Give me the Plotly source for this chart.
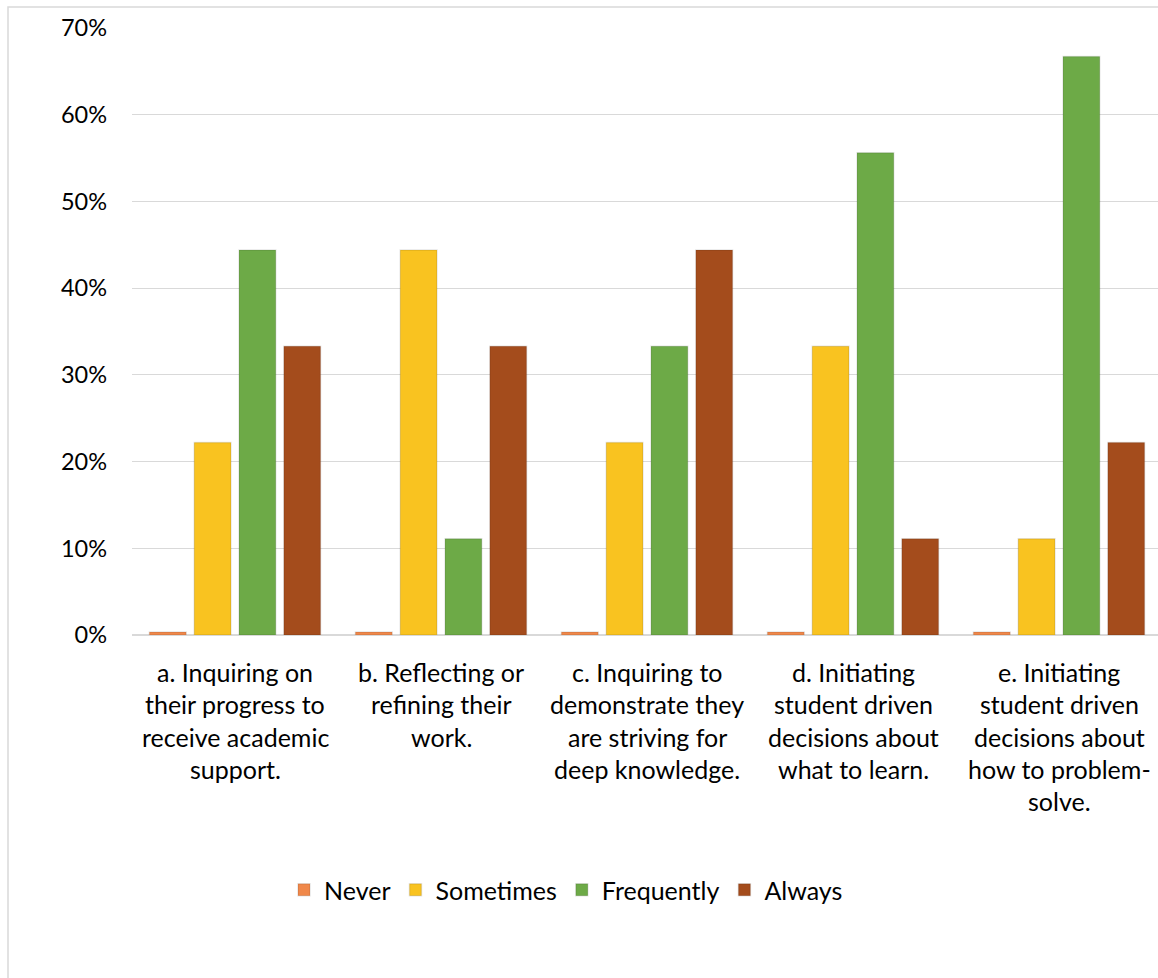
import plotly.graph_objects as go

categories = [
    "a. Inquiring on<br>their progress to<br>receive academic<br>support.",
    "b. Reflecting or<br>refining their<br>work.",
    "c. Inquiring to<br>demonstrate they<br>are striving for<br>deep knowledge.",
    "d. Initiating<br>student driven<br>decisions about<br>what to learn.",
    "e. Initiating<br>student driven<br>decisions about<br>how to problem-<br>solve.",
]
never = [0.0035, 0.0035, 0.0035, 0.0035, 0.0035]
sometimes = [0.222, 0.444, 0.222, 0.333, 0.111]
frequently = [0.444, 0.111, 0.333, 0.556, 0.667]
always = [0.333, 0.333, 0.444, 0.111, 0.222]

series = [
    ("Never", never, "#F0884A"),
    ("Sometimes", sometimes, "#F9C320"),
    ("Frequently", frequently, "#6DAA47"),
    ("Always", always, "#A44C1C"),
]

FONT = "Lato, 'Open Sans', sans-serif"
W, H = 1158, 978
L, T, B = 132, 28, 343
plot_h = H - T - B
plot_w = W - L

fig = go.Figure()
idx = list(range(len(categories)))
for name, vals, color in series:
    fig.add_trace(go.Bar(
        x=idx, y=vals, name=name,
        marker=dict(color=color, line=dict(color="rgba(0,0,0,0.10)", width=1.5)),
    ))

# Category labels, one annotation per line for Excel-like line spacing
annotations = []
line_px = 32.3
first_px = 672
for i, cat in enumerate(categories):
    for j, line in enumerate(cat.split("<br>")):
        py = first_px + line_px * j
        annotations.append(dict(
            x=i, xref="x", y=(H - B - py) / plot_h, yref="paper",
            text=line, showarrow=False, xanchor="center", yanchor="middle",
            font=dict(family=FONT, size=25, color="#000000"),
        ))

fig.update_layout(
    width=W, height=H,
    margin=dict(l=L, r=0, t=T, b=B),
    paper_bgcolor="white", plot_bgcolor="white",
    barmode="group", bargap=0.13, bargroupgap=0.18,
    font=dict(family=FONT, size=25, color="#000000"),
    xaxis=dict(range=[-0.5, -0.5 + plot_w / 206.0], showticklabels=False,
               showgrid=False, zeroline=False, showline=False, ticks=""),
    yaxis=dict(range=[0, 0.70], dtick=0.10, tickformat=".0%",
               showgrid=True, gridcolor="#D9D9D9", gridwidth=1.3,
               zeroline=True, zerolinecolor="#D9D9D9", zerolinewidth=2,
               showline=False, ticks="", ticklabelstandoff=24,
               tickfont=dict(family=FONT, size=23.5, color="#000000")),
    legend=dict(orientation="h", x=(566 - L) / plot_w, xanchor="center",
                y=(H - B - 890) / plot_h, yanchor="middle",
                font=dict(family=FONT, size=25, color="#000000"),
                traceorder="normal"),
    annotations=annotations,
    shapes=[dict(type="rect", xref="paper", yref="paper",
                 x0=(8 - L) / plot_w, x1=1.2,
                 y0=-0.7, y1=(H - B - 7) / plot_h,
                 line=dict(color="#D9D9D9", width=1.5), layer="below")],
)

fig.write_html("out.html")
